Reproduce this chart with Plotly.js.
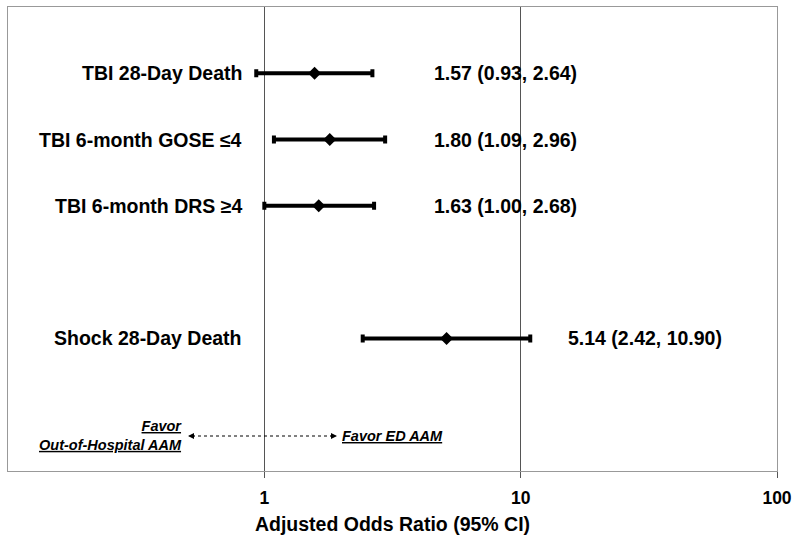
<!DOCTYPE html>
<html>
<head>
<meta charset="utf-8">
<script src="https://cdn.plot.ly/plotly-3.0.1.min.js"></script>
<style>body{margin:0;padding:0;background:#fff;} #chart{width:800px;height:550px;}</style>
</head>
<body>
<div id="chart"></div>
<script>
// ---- data ----
const outcomes = ["TBI 28-Day Death", "TBI 6-month GOSE \u22644", "TBI 6-month DRS \u22654", "Shock 28-Day Death"];
const rowPos = [6, 5, 4, 2];
const oddsRatio = [1.57, 1.80, 1.63, 5.14];
const ciLow = [0.93, 1.09, 1.00, 2.42];
const ciHigh = [2.64, 2.96, 2.68, 10.90];
const tickVals = [1, 10, 100];
const tickText = ["1", "10", "100"];

// ---- layout constants ----
const W = 800, H = 550;
const mL = 8, mR = 23, mT = 7, mB = 79;
const pw = W - mL - mR, ph = H - mT - mB;
const px2x = p => (p - mL) / pw;
const py2y = p => (H - mB - p) / ph;
const FONT = "Liberation Sans, Arial, sans-serif";
const valueLabelX = [px2x(432), px2x(432), px2x(432), px2x(566)];

const trace = {
  type: "scatter",
  mode: "markers",
  x: oddsRatio,
  y: rowPos,
  marker: {symbol: "diamond", size: 10, color: "#000"},
  error_x: {
    type: "data", symmetric: false,
    array: oddsRatio.map((v, i) => ciHigh[i] - v),
    arrayminus: oddsRatio.map((v, i) => v - ciLow[i]),
    color: "#000", thickness: 4, width: 4
  },
  hoverinfo: "skip",
  showlegend: false
};

const annotations = [];
outcomes.forEach((name, i) => {
  annotations.push({
    xref: "paper", yref: "y", x: px2x(244), y: rowPos[i],
    xanchor: "right", yanchor: "middle", showarrow: false,
    text: "<b>" + name + "</b>", font: {family: FONT, size: 19.5, color: "#000"}
  });
  annotations.push({
    xref: "paper", yref: "y", x: valueLabelX[i], y: rowPos[i],
    xanchor: "left", yanchor: "middle", showarrow: false,
    text: "<b>" + oddsRatio[i].toFixed(2) + " (" + ciLow[i].toFixed(2) + ", " + ciHigh[i].toFixed(2) + ")</b>",
    font: {family: FONT, size: 19.5, color: "#000"}
  });
});
// Favor labels
annotations.push({
  xref: "paper", yref: "paper", x: px2x(184), y: py2y(435),
  xanchor: "right", yanchor: "middle", align: "right", showarrow: false,
  text: "<b><i><u>Favor</u></i></b><br><b><i><u>Out-of-Hospital AAM</u></i></b>",
  font: {family: FONT, size: 14.5, color: "#000"}
});
annotations.push({
  xref: "paper", yref: "paper", x: px2x(340), y: py2y(436),
  xanchor: "left", yanchor: "middle", showarrow: false,
  text: "<b><i><u>Favor ED AAM</u></i></b>",
  font: {family: FONT, size: 14.5, color: "#000"}
});
// arrow heads
annotations.push({
  xref: "paper", yref: "paper", x: px2x(188), y: py2y(436), ax: 8, ay: 0,
  text: "", showarrow: true, arrowhead: 2, arrowsize: 1.2, arrowwidth: 1, arrowcolor: "#000"
});
annotations.push({
  xref: "paper", yref: "paper", x: px2x(337), y: py2y(436), ax: -8, ay: 0,
  text: "", showarrow: true, arrowhead: 2, arrowsize: 1.2, arrowwidth: 1, arrowcolor: "#000"
});

const shapes = [
  {type: "line", xref: "paper", yref: "paper", x0: px2x(192), x1: px2x(333), y0: py2y(436), y1: py2y(436),
   line: {color: "#000", width: 1, dash: "dot"}}
];

const layout = {
  width: W, height: H,
  margin: {l: mL, r: mR, t: mT, b: mB, pad: 0},
  paper_bgcolor: "#fff", plot_bgcolor: "#fff",
  showlegend: false,
  xaxis: {
    type: "log", range: [-1, 2],
    tickvals: tickVals, ticktext: tickText,
    ticks: "outside", ticklen: 6, tickcolor: "#555", tickwidth: 1,
    ticklabelstandoff: 5,
    showgrid: true, gridcolor: "#555", gridwidth: 1,
    showline: true, linecolor: "#999", linewidth: 1, mirror: true,
    zeroline: false,
    tickfont: {family: FONT, size: 17.5, color: "#000", weight: "bold"},
    title: {text: "<b>Adjusted Odds Ratio (95% CI)</b>", font: {family: FONT, size: 19.5, color: "#000"}, standoff: 10},
    fixedrange: true
  },
  yaxis: {
    range: [0, 7], showticklabels: false, ticks: "", showgrid: false, zeroline: false,
    showline: true, linecolor: "#999", linewidth: 1, mirror: true, fixedrange: true
  },
  annotations: annotations,
  shapes: shapes
};

Plotly.newPlot("chart", [trace], layout, {displayModeBar: false, staticPlot: true});
</script>
</body>
</html>
